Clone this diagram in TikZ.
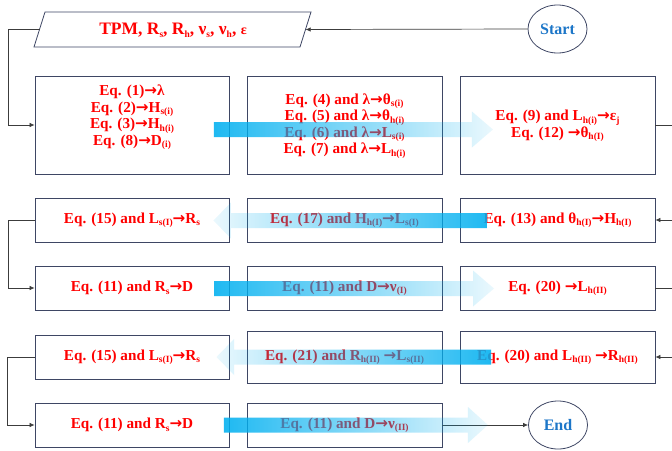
\documentclass[tikz,border=0pt]{standalone}
\usepackage{fontspec}
\setmainfont{Liberation Serif}
\newfontfamily\arrfont{DejaVu Sans}
\usetikzlibrary{arrows.meta,fadings,shapes.geometric}
\definecolor{eqred}{RGB}{255,0,0}
\definecolor{termblue}{RGB}{28,118,200}
\definecolor{boxc}{RGB}{62,70,100}
\definecolor{connc}{RGB}{60,60,60}
\definecolor{arrowc}{RGB}{0,176,240}
\newcommand{\sbx}[1]{\raisebox{-0.35ex}{\fontsize{9.5}{9.5}\selectfont #1}}
\newcommand{\arr}{{\arrfont\bfseries →}}
\tikzfading[name=fadeR, left color=transparent!12, right color=transparent!92]
\tikzfading[name=fadeL, left color=transparent!92, right color=transparent!12]
\newcommand{\fatarrow}[5]{% fading, tail x, head base x, tip x, centre y
  \fill[arrowc, path fading=#1] (#2,#5-7.5) -- (#3,#5-7.5) -- (#3,#5-18) -- (#4,#5) -- (#3,#5+18) -- (#3,#5+7.5) -- (#2,#5+7.5) -- cycle;}
\begin{document}
\begin{tikzpicture}[x=1pt,y=-1pt,
  box/.style={draw=boxc, line width=0.8pt, minimum width=195pt, minimum height=44pt, inner sep=0pt},
  eqtext/.style={text=eqred, font=\bfseries\fontsize{15.2}{16.5}\selectfont, align=center, inner sep=0pt},
  term/.style={ellipse, draw=boxc, line width=0.8pt, minimum width=59pt, minimum height=48pt, inner sep=0pt,
    text=termblue, font=\bfseries\fontsize{16}{18}\selectfont},
  conn/.style={draw=connc, line width=0.7pt, -{Latex[length=5pt,width=4.5pt]}},
  line/.style={draw=connc, line width=0.7pt}]
\clip (0,0) rectangle (672,450);
\fill[white] (0,0) rectangle (672,450);

% start / input
\node[term] (start) at (557.5,29) {Start};
\draw[boxc, line width=0.8pt] (45,12) -- (311,12) -- (300,47) -- (34,47) -- cycle;
\node[eqtext, font=\bfseries\fontsize{17.5}{19}\selectfont] (input) at (173,30)
  {TPM, R\sbx{s}, R\sbx{h}, ν\sbx{s}, ν\sbx{h}, {\fontsize{14}{14}\selectfont ε}};
\coordinate (inE) at (305.6,29.5);
\coordinate (inW) at (39.6,29.5);

% row 1
\node[box, minimum width=194pt, minimum height=98pt] (a1) at (132,125) {};
\node[box, minimum height=98pt] (b1) at (344.5,125) {};
\node[box, minimum height=98pt] (c1) at (557.5,125) {};
\node[eqtext] (a1t) at (132,117.5) {Eq. (1)\arr λ\\Eq. (2)\arr H\sbx{s(i)}\\Eq. (3)\arr H\sbx{h(i)}\\Eq. (8)\arr D\sbx{(i)}};
\node[eqtext] (b1t) at (344.5,126) {Eq. (4) and λ\arr θ\sbx{s(i)}\\Eq. (5) and λ\arr θ\sbx{h(i)}\\Eq. (6) and λ\arr L\sbx{s(i)}\\Eq. (7) and λ\arr L\sbx{h(i)}};
\node[eqtext] (c1t) at (557.5,126) {Eq. (9) and L\sbx{h(i)}\arr ε\sbx{j}\\Eq. (12) \arr θ\sbx{h(I)}};

% row 2
\node[box, minimum width=194pt] (a2) at (132,220) {};
\node[box] (b2) at (344.5,220) {};
\node[box] (c2) at (557.5,220) {};
\node[eqtext] (a2t) at (a2) {Eq. (15) and L\sbx{s(I)}\arr R\sbx{s}};
\node[eqtext] (b2t) at (b2) {Eq. (17) and H\sbx{h(I)}\arr L\sbx{s(I)}};
\node[eqtext] (c2t) at (c2) {Eq. (13) and θ\sbx{h(I)}\arr H\sbx{h(I)}};

% row 3
\node[box, minimum width=194pt] (a3) at (132,288) {};
\node[box] (b3) at (344.5,288) {};
\node[box] (c3) at (557.5,288) {};
\node[eqtext] (a3t) at (a3) {Eq. (11) and R\sbx{s}\arr D};
\node[eqtext] (b3t) at (b3) {Eq. (11) and D\arr ν\sbx{(I)}};
\node[eqtext] (c3t) at (c3) {Eq. (20) \arr L\sbx{h(II)}};

% row 4
\node[box, minimum width=194pt] (a4) at (132,357) {};
\node[box, minimum height=52pt] (b4) at (344.5,357) {};
\node[box, minimum height=52pt] (c4) at (557.5,357) {};
\node[eqtext] (a4t) at (a4) {Eq. (15) and L\sbx{s(I)}\arr R\sbx{s}};
\node[eqtext] (b4t) at (b4) {Eq. (21) and R\sbx{h(II)} \arr L\sbx{s(II)}};
\node[eqtext] (c4t) at (c4) {Eq. (20) and L\sbx{h(II)} \arr R\sbx{h(II)}};

% row 5
\node[box, minimum width=194pt] (a5) at (132,425) {};
\node[box] (b5) at (344.5,425) {};
\node[term] (end) at (558,425) {End};
\node[eqtext] (a5t) at (a5) {Eq. (11) and R\sbx{s}\arr D};
\node[eqtext] (b5t) at (b5) {Eq. (11) and D\arr ν\sbx{(II)}};

% connectors
\draw[conn] (start.west) -- (inE);
\draw[conn] (inW) -- ++(-31.3,0) |- (a1.west);
\draw[conn] (c1.east) -- ++(22,0) |- (c2.east);
\draw[conn] (a2.west) -- ++(-26.5,0) |- (a3.west);
\draw[conn] (c3.east) -- ++(22,0) |- (c4.east);
\draw[conn] (a4.west) -- ++(-27.5,0) |- (a5.west);
\draw[conn] (b5.east) -- (end.west);

% fat flow arrows
\fatarrow{fadeR}{214}{472}{493}{129.5}
\fatarrow{fadeL}{487}{231}{213.5}{220.5}
\fatarrow{fadeR}{214}{473}{494}{288.5}
\fatarrow{fadeL}{491}{234}{216.5}{357}
\fatarrow{fadeR}{224}{468}{488}{425}
\end{tikzpicture}
\end{document}
